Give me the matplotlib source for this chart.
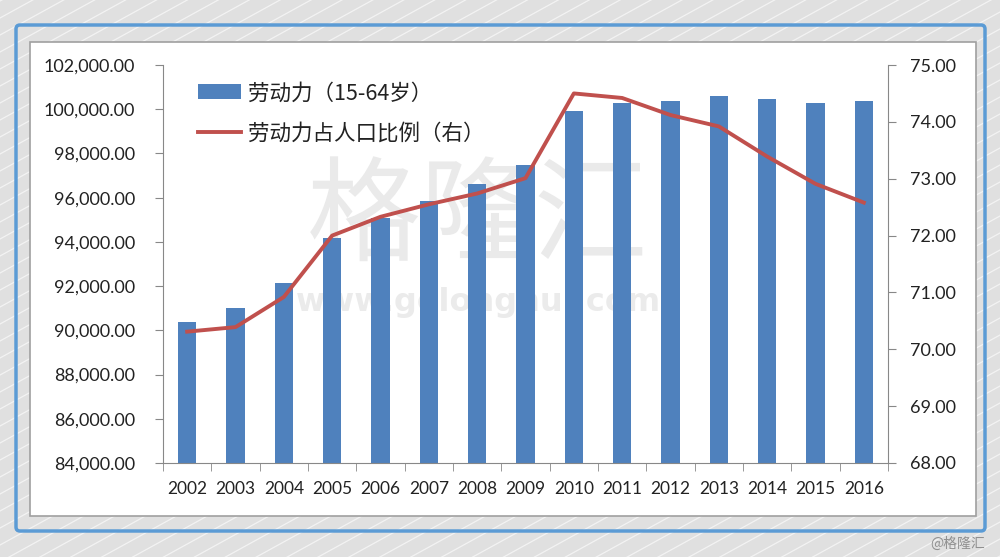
import matplotlib.pyplot as plt
import matplotlib.patches as patches
import numpy as np

plt.rcParams['font.family'] = ['Lato', 'Noto Sans CJK SC', 'DejaVu Sans']

years = ['2002', '2003', '2004', '2005', '2006', '2007', '2008', '2009',
         '2010', '2011', '2012', '2013', '2014', '2015', '2016']
labor = [90360, 91030, 92140, 94170, 95070, 95830, 96620, 97460,
         99920, 100300, 100380, 100580, 100440, 100300, 100360]
ratio = [70.31, 70.39, 70.92, 72.0, 72.33, 72.55, 72.74, 73.01,
         74.5, 74.42, 74.12, 73.92, 73.39, 72.91, 72.58]

bar_color = '#4F81BD'
line_color = '#C0504D'
text_color = '#222222'

W, H = 1000, 557
fig = plt.figure(figsize=(W / 100, H / 100), dpi=100)
fig.patch.set_facecolor('#E0E0E0')

# thin diagonal stripes in the background
bg_ax = fig.add_axes([0, 0, 1, 1], zorder=-20)
bg_ax.set_xlim(0, W)
bg_ax.set_ylim(0, H)
bg_ax.axis('off')
for c in np.arange(-600, H + 20, 17):
    bg_ax.plot([0, W], [c, c + 0.55 * W], color='#F3F3F3', lw=0.9, zorder=1)

# blue frame and inner white panel
frame = patches.FancyBboxPatch((16, H - 531), 969, 531 - 25,
                               boxstyle='round,pad=0,rounding_size=4',
                               facecolor='none', edgecolor='#5B9BD5', linewidth=2.5, zorder=3)
bg_ax.add_patch(frame)
panel = patches.Rectangle((30, H - 516), 946, 516 - 42, facecolor='white',
                          edgecolor='#A0A0A0', linewidth=1.2, zorder=3)
bg_ax.add_patch(panel)

# watermark, behind the bars
bg_ax.text(478, H - 220, '格隆汇', fontsize=82, color='#EAEAEA', zorder=4,
           ha='center', va='center', family=['Noto Sans CJK SC'], fontweight='light')
bg_ax.text(478, H - 302, 'www.gelonghui.com', fontsize=23, color='#EBEBEB', zorder=4,
           ha='center', va='center', family=['DejaVu Sans'], fontweight='bold')
bg_ax.text(985, 6, '@格隆汇', fontsize=10, color='#909090', ha='right', va='bottom',
           family=['Noto Sans CJK SC', 'DejaVu Sans'], zorder=4)

ax = fig.add_axes([163 / W, 1 - 463 / H, 725 / W, (463 - 65) / H])
ax.set_facecolor('none')
x = np.arange(len(years))
ax.bar(x, labor, width=0.38, color=bar_color, zorder=2, label='劳动力（15-64岁）')
ax.set_xlim(-0.5, len(years) - 0.5)
ax.set_ylim(84000, 102000)
yt = np.arange(84000, 102001, 2000)
ax.set_yticks(yt)
ax.set_yticklabels([f'{v:,.2f}' for v in yt])
ax.set_xticks(x)
ax.set_xticklabels(years)
ax.set_xticks(np.arange(-0.5, len(years), 1), minor=True)
ax.tick_params(axis='x', which='major', length=0, pad=13, labelsize=12.5, colors=text_color)
ax.tick_params(axis='x', which='minor', length=6, color='#888888', direction='out')
ax.tick_params(axis='y', length=6, color='#888888', labelsize=13, colors=text_color, pad=14)
for s in ['top', 'right']:
    ax.spines[s].set_visible(False)
for s in ['left', 'bottom']:
    ax.spines[s].set_color('#888888')

ax2 = ax.twinx()
ax2.plot(x, ratio, color=line_color, lw=2.8, zorder=3, label='劳动力占人口比例（右）')
ax2.set_ylim(68, 75)
rt = np.arange(68, 75.01, 1)
ax2.set_yticks(rt)
ax2.set_yticklabels([f'{v:.2f}' for v in rt])
ax2.tick_params(axis='y', length=6, color='#888888', labelsize=13, colors=text_color, pad=10)
for s in ['top', 'left', 'bottom']:
    ax2.spines[s].set_visible(False)
ax2.spines['right'].set_color('#888888')

h1, l1 = ax.get_legend_handles_labels()
h2, l2 = ax2.get_legend_handles_labels()
leg = ax2.legend(h1 + h2, l1 + l2, loc='upper left', bbox_to_anchor=(0.022, 1.005),
                 frameon=False, handlelength=2.0, handletextpad=0.3, labelspacing=0.85,
                 prop={'family': ['Noto Sans CJK SC', 'DejaVu Sans'], 'size': 15.5})
for t in leg.get_texts():
    t.set_color(text_color)

fig.savefig('out.png', dpi=100, facecolor=fig.get_facecolor())
